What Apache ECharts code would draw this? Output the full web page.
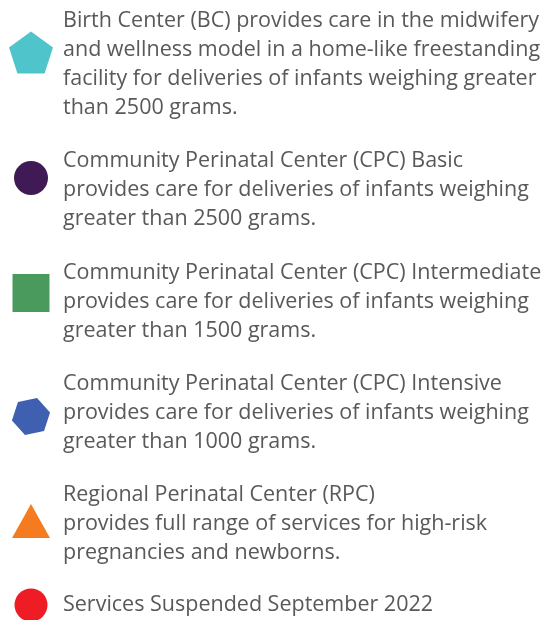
<!DOCTYPE html>
<html>
<head>
<meta charset="utf-8">
<script src="https://cdn.jsdelivr.net/npm/echarts@6/dist/echarts.min.js"></script>
<style>html,body{margin:0;padding:0;background:#fff;}#chart{width:544px;height:620px;}</style>
</head>
<body>
<div id="chart"></div>
<script>
// Legend categories (text as shown)
const categories = [
  'Birth Center (BC) provides care in the midwifery\nand wellness model in a home-like freestanding\nfacility for deliveries of infants weighing greater\nthan 2500 grams.',
  'Community Perinatal Center (CPC) Basic\nprovides care for deliveries of infants weighing\ngreater than 2500 grams.',
  'Community Perinatal Center (CPC) Intermediate\nprovides care for deliveries of infants weighing\ngreater than 1500 grams.',
  'Community Perinatal Center (CPC) Intensive\nprovides care for deliveries of infants weighing\ngreater than 1000 grams.',
  'Regional Perinatal Center (RPC)\nprovides full range of services for high-risk\npregnancies and newborns.',
  'Services Suspended September 2022'
];
const colors = ['#4fc4ca', '#3f1a55', '#4a9a5e', '#3f5fb0', '#f47b20', '#ee1c25'];

// icon shapes in a 44x44 frame (corner points fix the frame)
const F = 'M0 0 M44 44 ';
const icons = [
  'path://' + F + 'M22 1.1 L43.97 17.06 L35.58 42.9 L8.42 42.9 L0.03 17.06 Z',
  'path://' + F + 'M5 22 A17 17 0 1 1 39 22 A17 17 0 1 1 5 22 Z',
  'path://' + F + 'M3.5 3 L40.5 3 L40.5 41 L3.5 41 Z',
  'path://' + F + 'M41.07 21.45 L35.05 39.99 L15.97 44 L2.93 29.55 L8.95 11.01 L28.03 6.95 Z',
  'path://' + F + 'M22 2 L41 36 L3 36 Z',
  'path://' + F + 'M5.5 22 A16.5 16.5 0 1 1 38.5 22 A16.5 16.5 0 1 1 5.5 22 Z'
];
// spacer heights above / below each text block (shift text relative to its icon)
const spTop = [24, 24, 25, 17, 7, 16];
const spBottom = [0, 0, 7, 17, 7, 16];

const rich = {};
[...new Set(spTop.concat(spBottom))].forEach(h => {
  if (h > 0) rich['s' + h] = {lineHeight: h, height: h, fontSize: 1};
});
rich.t = {fontFamily: 'Open Sans', fontSize: 21.5, lineHeight: 29, color: '#595959', padding: [0, 0, 0, 5]};

function fmt(name) {
  const i = categories.indexOf(name);
  const lines = name.split('\n').map(l => '{t|' + l + '}');
  if (spTop[i] > 0) lines.unshift('{s' + spTop[i] + '| }');
  if (spBottom[i] > 0) lines.push('{s' + spBottom[i] + '| }');
  return lines.join('\n');
}

const chart = echarts.init(document.getElementById('chart'), null, {renderer: 'canvas'});
chart.setOption({
  animation: false,
  legend: {
    orient: 'vertical',
    left: 9,
    top: -17.5,
    padding: 0,
    itemGap: 0,
    itemWidth: 44,
    itemHeight: 44,
    selectedMode: false,
    formatter: fmt,
    textStyle: {
      fontFamily: 'Open Sans',
      fontSize: 21.5,
      lineHeight: 29,
      color: '#595959',
      rich: rich
    },
    data: categories.map((c, i) => ({
      name: c,
      icon: icons[i],
      itemStyle: {color: colors[i], opacity: 1}
    }))
  },
  xAxis: {show: false, type: 'value'},
  yAxis: {show: false, type: 'value'},
  grid: {show: false},
  series: categories.map((c, i) => ({
    name: c,
    type: 'scatter',
    data: [],
    itemStyle: {color: colors[i], opacity: 1}
  }))
});
</script>
</body>
</html>
